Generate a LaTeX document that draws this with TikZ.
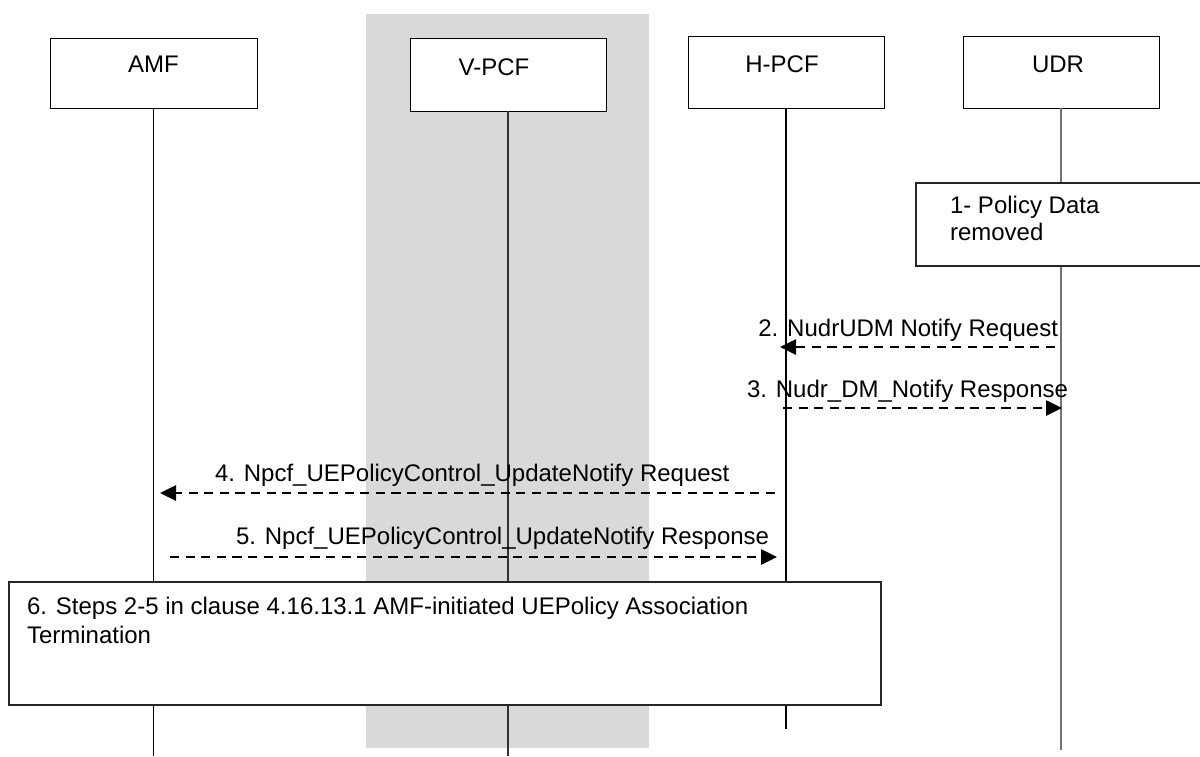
\documentclass[tikz,border=0pt]{standalone}
\usepackage{fontspec}
\setmainfont{Liberation Sans}
\usetikzlibrary{arrows.meta}
\begin{document}
\begin{tikzpicture}[x=0.5pt,y=-0.5pt,
  every node/.style={font=\fontsize{12}{14}\selectfont, inner sep=0pt, outer sep=0pt},
  entity/.style={draw=black, fill=white, line width=0.5pt, minimum width=98pt, minimum height=36pt},
  stepbox/.style={draw=black!85, fill=white, line width=0.6pt},
  lifeline/.style={line width=0.55pt},
  msg/.style={line width=1.3pt, dash pattern=on 4.6pt off 3.2pt, -{Triangle[length=8pt,width=7.5pt]}},
  band/.style={fill=black!15}]
\useasboundingbox (0,0) rectangle (1200,756);
% grey band
\fill[band] (366,14) rectangle (649,748);
% header boxes
\node[entity, minimum width=103.5pt, minimum height=35pt] (amf) at (153.5,73) {};
\node (amft) at (153.5,64) {AMF};
\node[entity, minimum height=36.5pt] (vpcf) at (508,74.5) {};
\node (vpcft) at (494,67) {V-PCF};
\node[entity] (hpcf) at (786,72) {};
\node (hpcft) at (782,64) {H-PCF};
\node[entity] (udr) at (1061,72) {};
\node (udrt) at (1058,64) {UDR};
% lifeline ends
\coordinate (amfend) at (153.5,756);
\coordinate (vpcfend) at (508,756);
\coordinate (hpcfend) at (786,729);
\coordinate (udrend) at (1061,750);
\draw[lifeline] (amf.south) -- (amfend);
\draw[lifeline, draw=black!80] (vpcf.south) -- (vpcfend);
\draw[lifeline] (hpcf.south) -- (hpcfend);
\draw[lifeline, draw=black!55] (udr.south) -- (udrend);
% step 1 box
\node[stepbox, minimum width=147pt, minimum height=41.5pt] (s1) at (1063,224.5) {};
\node[anchor=north west, align=left, font=\fontsize{12}{13.7}\selectfont] (s1t) at (950,196) {1- Policy Data\\removed};
% messages
\coordinate (m2s) at (1055,347); \coordinate (m2e) at (780,347);
\coordinate (m3s) at (783,408);  \coordinate (m3e) at (1062,408);
\coordinate (m4s) at (775,493);  \coordinate (m4e) at (160,493);
\coordinate (m5s) at (170,557);  \coordinate (m5e) at (777,557);
\draw[msg] (m2s) -- (m2e);
\draw[msg] (m3s) -- (m3e);
\draw[msg] (m4s) -- (m4e);
\draw[msg] (m5s) -- (m5e);
\node[anchor=base east] (l2) at (1058,336) {2. NudrUDM Notify Request};
\node[anchor=base west] (l3) at (747,397) {3. Nudr\_DM\_Notify Response};
\node[anchor=base west] (l4) at (215,481) {4. Npcf\_UEPolicyControl\_UpdateNotify Request};
\node[anchor=base west] (l5) at (236,544) {5. Npcf\_UEPolicyControl\_UpdateNotify Response};
% step 6 box
\node[stepbox, minimum width=436pt, minimum height=61.5pt] (s6) at (445,643.5) {};
\node[anchor=north west, align=left, font=\fontsize{12}{14.3}\selectfont] (s6t) at (27,597) {6. Steps 2-5 in clause 4.16.13.1 AMF-initiated UEPolicy Association\\Termination};
\end{tikzpicture}
\end{document}
